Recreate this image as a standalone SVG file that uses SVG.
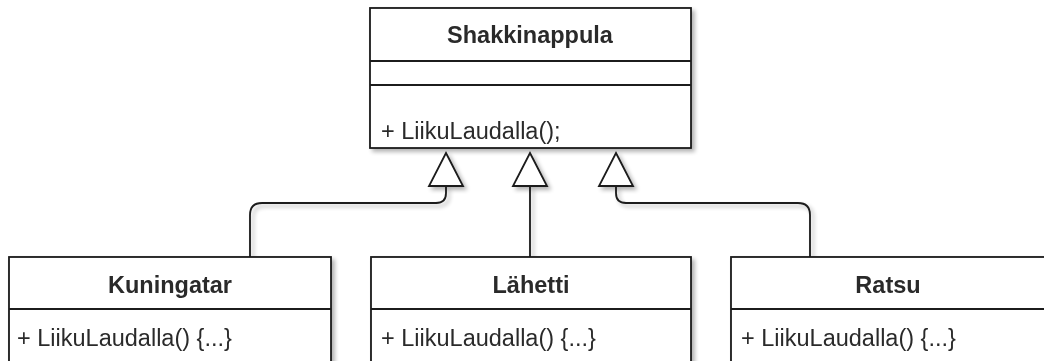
<svg xmlns="http://www.w3.org/2000/svg" width="1044" height="361" viewBox="0 0 1044 361">
  <defs>
    <filter id="shadow" x="-10%" y="-10%" width="130%" height="130%">
      <feGaussianBlur in="SourceAlpha" stdDeviation="2"/>
      <feOffset dx="3" dy="3" result="b"/>
      <feComponentTransfer><feFuncA type="linear" slope="0.3"/></feComponentTransfer>
      <feMerge><feMergeNode/><feMergeNode in="SourceGraphic"/></feMerge>
    </filter>
    <!-- hollow inheritance triangle, tip at origin -->
    <path id="inherit" d="M0,0 L17,33 L-17,33 Z"/>
  </defs>
  <style>
    .box { fill: #fff; stroke: #1a1a1a; stroke-width: 1.8; }
    .div { stroke: #1a1a1a; stroke-width: 1.8; }
    .edge { fill: none; stroke: #1a1a1a; stroke-width: 1.8; }
    .head { fill: #fff; stroke: #1a1a1a; stroke-width: 1.8; stroke-linejoin: miter; }
    .title { font-family: "Liberation Sans", Arial, sans-serif; font-size: 23.5px; font-weight: bold; fill: #2b2b2b; text-anchor: middle; }
    .member { font-family: "Liberation Sans", Arial, sans-serif; font-size: 23.5px; fill: #2b2b2b; }
  </style>
  <rect width="1044" height="361" fill="#fff"/>
  <g filter="url(#shadow)">
    <g id="connectors">
      <path class="edge" d="M250,257 V215 Q250,203 262,203 H436 Q446,203 446,193 V186"/>
      <path class="edge" d="M530,257 V186"/>
      <path class="edge" d="M810,257 V215 Q810,203 798,203 H626 Q616,203 616,193 V186"/>
      <use href="#inherit" class="head" x="446" y="153"/>
      <use href="#inherit" class="head" x="530" y="153"/>
      <use href="#inherit" class="head" x="616" y="153"/>
    </g>
    <g id="shakkinappula">
      <rect class="box" x="370" y="8" width="321" height="140"/>
      <line class="div" x1="370" y1="61" x2="691" y2="61"/>
      <line class="div" x1="370" y1="85" x2="691" y2="85"/>
      <text class="title" x="530" y="43">Shakkinappula</text>
      <text class="member" x="381" y="139">+ LiikuLaudalla();</text>
    </g>
    <g id="kuningatar">
      <rect class="box" x="9" y="257" width="322" height="120"/>
      <line class="div" x1="9" y1="309" x2="331" y2="309"/>
      <text class="title" x="170" y="293">Kuningatar</text>
      <text class="member" x="17" y="346">+ LiikuLaudalla() {...}</text>
    </g>
    <g id="lahetti">
      <rect class="box" x="371" y="257" width="320" height="120"/>
      <line class="div" x1="371" y1="309" x2="691" y2="309"/>
      <text class="title" x="531" y="293">Lähetti</text>
      <text class="member" x="381" y="346">+ LiikuLaudalla() {...}</text>
    </g>
    <g id="ratsu">
      <rect class="box" x="731" y="257" width="320" height="120"/>
      <line class="div" x1="731" y1="309" x2="1051" y2="309"/>
      <text class="title" x="888" y="293">Ratsu</text>
      <text class="member" x="741" y="346">+ LiikuLaudalla() {...}</text>
    </g>
  </g>
</svg>
